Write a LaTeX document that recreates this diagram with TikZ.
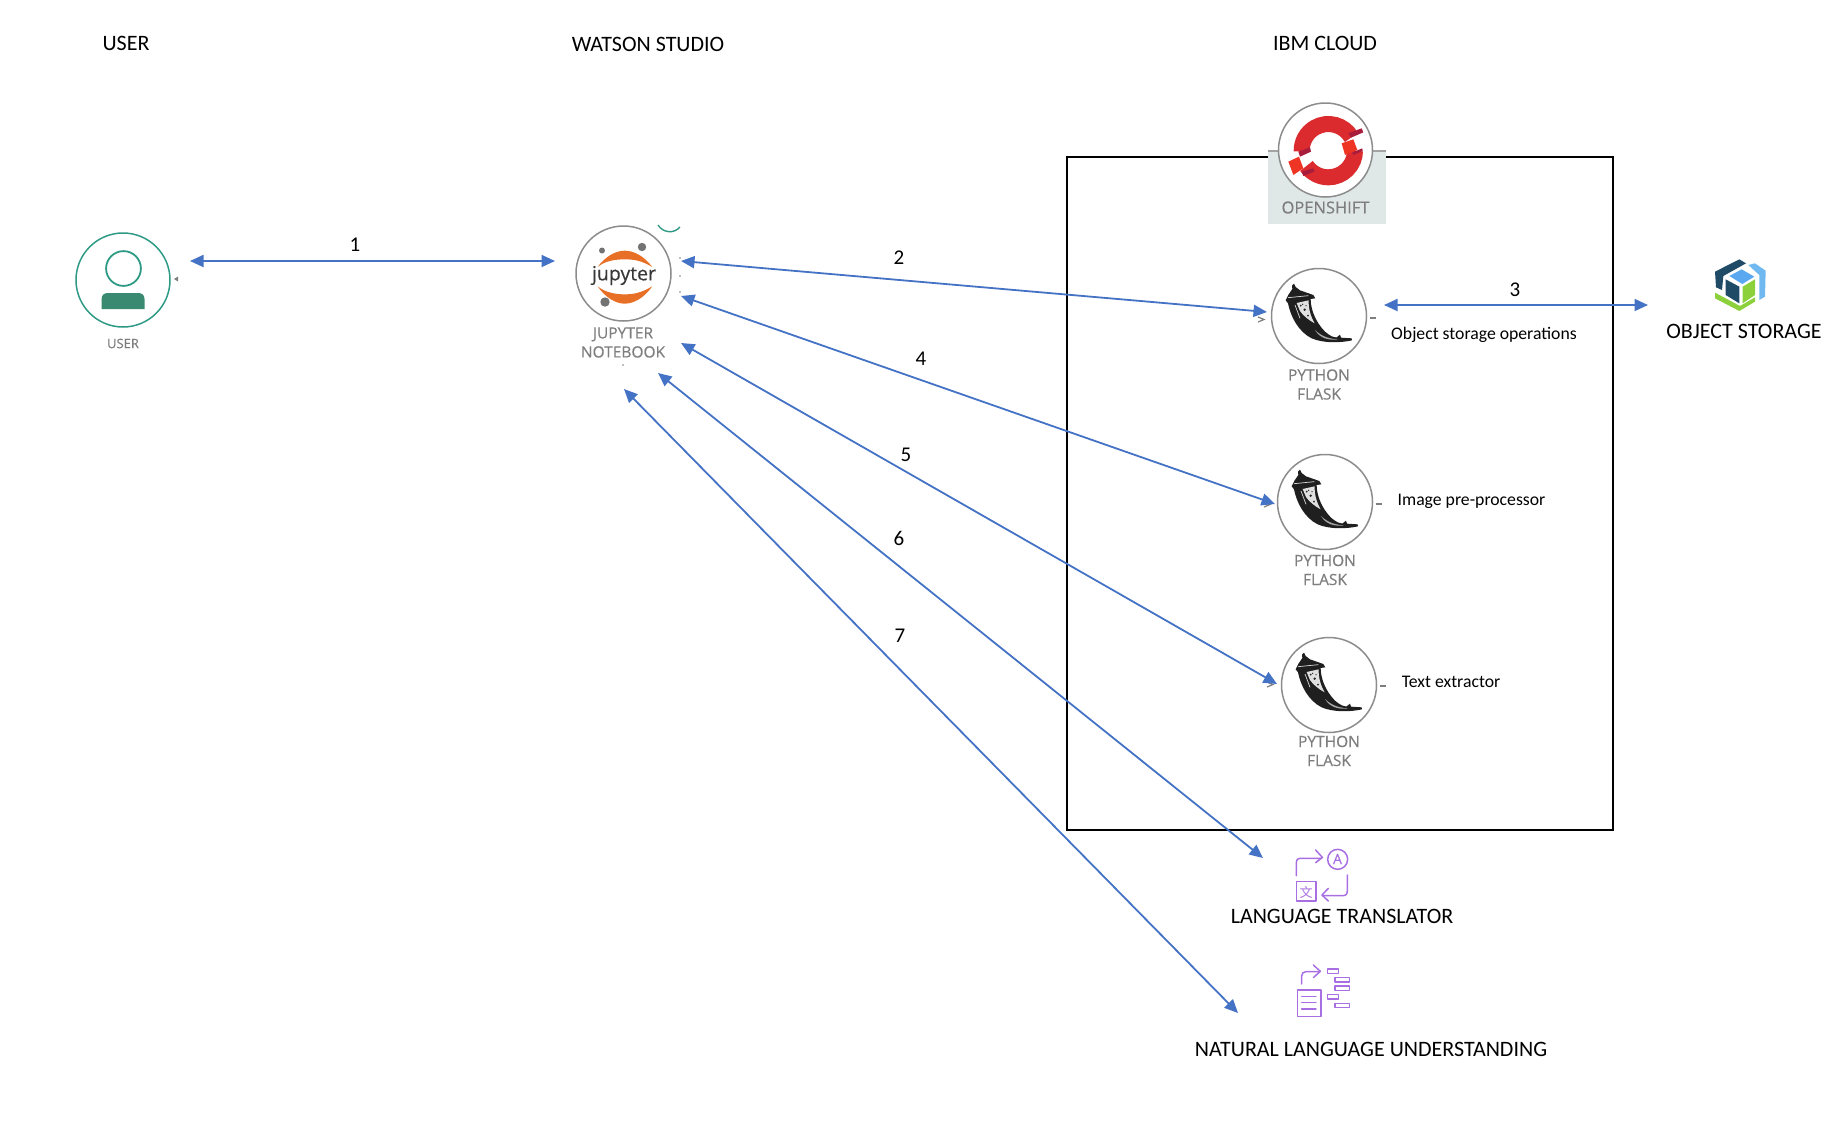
\documentclass[tikz,border=0pt]{standalone}
\usepackage{fontspec}
\setmainfont{Carlito}
\newfontfamily\gfont[FakeBold=0.35]{Open Sans}
\newfontfamily\cjkf{Noto Sans CJK SC}
\usetikzlibrary{arrows.meta,calc}
\definecolor{arrowblue}{HTML}{4472C4}
\definecolor{teal1}{HTML}{2E9A85}
\definecolor{teal2}{HTML}{3A8A72}
\definecolor{ringgray}{HTML}{8C8C8C}
\definecolor{labelgray}{HTML}{7E7E7E}
\definecolor{purp}{HTML}{A86FE2}
\definecolor{osred}{HTML}{DB2B2E}
\definecolor{osbright}{HTML}{EE3524}
\definecolor{osdark}{HTML}{A81C3C}
\definecolor{osbg}{HTML}{DFE8E6}
\definecolor{jorange}{HTML}{E86F26}
\definecolor{cosdark}{HTML}{1F4B66}
\definecolor{coslight}{HTML}{6FB8F0}
\definecolor{costop}{HTML}{5AA9F0}
\definecolor{cosgreen}{HTML}{8CD13C}
\tikzset{
  conn/.style={arrowblue,line width=1.8pt,{Triangle[length=13.5pt,width=12pt]}-{Triangle[length=13.5pt,width=12pt]}},
  ring/.style={circle,draw=ringgray,line width=1.5pt,minimum size=95pt,inner sep=0pt},
  head/.style={font=\fontsize{22}{24}\selectfont,text=black,inner sep=0pt},
  num/.style={font=\fontsize{21}{22}\selectfont,text=black,inner sep=0pt},
  note/.style={font=\fontsize{17.7}{20}\selectfont,text=black,inner sep=0pt},
  tag/.style={font=\gfont\fontsize{15.5}{19}\selectfont,text=labelgray,inner sep=0pt,align=center},
  ptick/.style={labelgray,line width=1.5pt},
  flask/.pic={
    \begin{scope}[shift={(-39,-41)},scale=0.3333]
      \fill[black!88] (42,26) -- (47,36) -- (60,46) -- (100,60) -- (106,70) -- (92,72)
        .. controls (92,100) and (104,138) .. (135,170)
        .. controls (150,183) and (162,188) .. (170,187) -- (180,179) -- (183,188) -- (215,190) -- (216,196)
        .. controls (180,204) and (130,205) .. (95,190)
        .. controls (55,170) and (32,125) .. (24,85) -- (17,76) -- (26,58) -- (37,42) -- (36,32) -- cycle;
      \fill[black!12] (50,84) -- (86,76) .. controls (85,100) and (92,125) .. (104,145) .. controls (85,135) and (68,120) .. (60,108) -- cycle;
      \fill[black!85] (62,92) circle (3) (74,104) circle (4) (68,88) circle (2) (84,122) circle (3) (78,92) circle (2);
      \draw[black!15,line width=.7pt] (24,68) -- (85,62) (45,90) -- (60,130);
      \fill[black!35] (105,165) .. controls (125,185) and (150,192) .. (175,193) .. controls (145,197) and (120,190) .. (105,165) -- cycle;
    \end{scope}
  }
}
\begin{document}
\begin{tikzpicture}[x=1pt,y=-1pt]
\useasboundingbox (0,0) rectangle (1832,1120);
% headings
\node[head] (hUser) at (126,43.5) {USER};
\node[head] (hWatson) at (648,44.5) {WATSON STUDIO};
\node[head] (hCloud) at (1325,43.5) {IBM CLOUD};
% cloud box
\node[draw=black,line width=2pt,minimum width=546pt,minimum height=673pt,inner sep=0pt] (cloud) at (1340,493.5) {};
% openshift
\fill[osbg] (1268,151) rectangle (1386,224);
\draw[ringgray!80,line width=2pt] (1268,151) -- (1386,151);
\node[ring,fill=white,minimum size=94pt] (os) at (1325.5,150) {};
\begin{scope}[shift={(1275,100)},scale=0.3333]
  \coordinate (osc) at (160,152);
  \draw[osred,line width=16pt] (osc) ++(-30:80) arc[start angle=-30,end angle=-182,radius=80];
  \draw[osred,line width=16pt] (osc) ++(0:80) arc[start angle=0,end angle=145,radius=80];
  \fill[osbright] (200,130) -- (235,118) -- (247,150) -- (210,165) -- cycle;
  \fill[osbright] (40,185) -- (72,170) -- (85,205) -- (55,225) -- cycle;
  \fill[osdark] (220,100) -- (260,85) -- (265,97) -- (228,113) -- cycle;
  \fill[osdark] (70,155) -- (105,142) -- (108,155) -- (75,170) -- cycle;
  \fill[osdark] (80,215) -- (115,205) -- (118,215) -- (85,228) -- cycle;
  \fill[osdark] (232,157) -- (262,145) -- (263,153) -- (235,165) -- cycle;
\end{scope}
\node[tag,font=\gfont\fontsize{16.5}{19}\selectfont] (osT) at (1325.5,207.5) {OPENSHIFT};
% user
\node[ring,draw=teal1,minimum size=94pt] (user) at (123,280) {};
\draw[teal1,line width=1.8pt] (123.5,268.5) circle (17.4);
\fill[teal2] (101.6,309) -- (101.6,299) .. controls (101.6,295) and (104,293) .. (108,293) -- (138,293) .. controls (142,293) and (144.5,295) .. (144.5,299) -- (144.5,309) -- cycle;
\node[tag,font=\gfont\fontsize{13}{14}\selectfont] (userT) at (123,343.5) {USER};
\fill[labelgray] (174,279) -- (178,276.5) -- (178,281.5) -- cycle;
% jupyter
\node[ring] (jup) at (623.5,273.5) {};
\begin{scope}[shift={(-55,193)},xscale=0.52,yscale=0.3333]
  \fill[jorange] (1255,222) .. controls (1270,190) and (1290,173) .. (1307,173) .. controls (1325,173) and (1345,190) .. (1360,222)
     .. controls (1340,203) and (1325,199) .. (1307,199) .. controls (1290,199) and (1270,203) .. (1255,222) -- cycle;
  \fill[jorange] (1255,280) .. controls (1270,314) and (1290,332) .. (1307,332) .. controls (1325,332) and (1345,314) .. (1360,280)
     .. controls (1340,299) and (1325,304) .. (1307,304) .. controls (1290,304) and (1270,299) .. (1255,280) -- cycle;
\end{scope}
\fill[black!55] (602,250.5) circle (3) (642,247) circle (4.2) (605,302) circle (4.7);
\node[font=\gfont\fontsize{19.5}{20}\selectfont,text=black!78,inner sep=0pt] (jupLogo) at (624,275.5) {jupyter};
\node[tag] (jupT) at (623,342.5) {JUPYTER\\NOTEBOOK};
\draw[teal1,line width=1.4pt] (658,225) .. controls (663,233) and (674,234) .. (680,227);
\fill[labelgray] (680,258) circle (.8) (680,276) circle (.8) (680,292) circle (.8) (623,365) circle (.8);
% flask services
\node[ring] (fa) at (1319,316) {};
\pic at (1319,316) {flask};
\node[tag] (faT) at (1319,384.5) {PYTHON\\FLASK};
\node[ring] (fb) at (1325,502) {};
\pic at (1325,502) {flask};
\node[tag] (fbT) at (1325,570) {PYTHON\\FLASK};
\node[ring] (fc) at (1329,685) {};
\pic at (1329,685) {flask};
\node[tag] (fcT) at (1329,751) {PYTHON\\FLASK};
\draw[ptick] (1370,318) -- (1376,318);
\draw[ptick] (1376,504) -- (1382,504);
\draw[ptick] (1380,686) -- (1386,686);
\draw[labelgray,line width=1.2pt] (1258,317) -- (1264,319.5) -- (1258,322);
\draw[labelgray,line width=1.2pt] (1264,502) -- (1270,504.5) -- (1264,507);
\draw[labelgray,line width=1.2pt] (1267,682) -- (1273,684.5) -- (1267,687);
% service notes
\node[note] (nA) at (1484,334.5) {Object storage operations};
\node[note] (nB) at (1471.5,501.5) {Image pre-processor};
\node[note] (nC) at (1451,682) {Text extractor};
% object storage
\begin{scope}[shift={(1700,250)},scale=0.3333]
  \fill[cosdark] (45,65) -- (118,28) -- (138,40) -- (70,78) -- (66,120) -- (48,112) -- cycle;
  \fill[coslight] (145,45) -- (165,40) -- (197,62) -- (195,140) -- (178,150) -- (178,75) -- cycle;
  \fill[cosgreen] (45,128) -- (120,168) -- (165,142) -- (165,155) -- (118,183) -- (45,145) -- cycle;
  \fill[costop] (88,78) -- (125,58) -- (163,80) -- (127,102) -- cycle;
  \fill[cosdark] (77,88) -- (118,110) -- (118,160) -- (77,135) -- cycle;
  \fill[cosgreen] (128,110) -- (165,88) -- (165,135) -- (128,160) -- cycle;
\end{scope}
\node[head] (store) at (1744,331.5) {OBJECT STORAGE};
% language translator
\begin{scope}[shift={(1180,830)},scale=0.3333,purp,line width=1.5pt,line cap=round,line join=round]
  \draw (349,137) -- (349,100) .. controls (349,90) and (352,85) .. (362,85) -- (425,85);
  \draw (407,60) -- (427,82) -- (407,98);
  \draw (473,88) circle (30);
  \draw (349,155) rectangle (408,213);
  \draw (502,135) -- (502,182) .. controls (502,192) and (498,197) .. (488,197) -- (428,197);
  \draw (445,175) -- (426,195) -- (445,213);
\end{scope}
\node[font=\fontsize{14}{14}\selectfont\gfont,text=purp,inner sep=0pt] (ltA) at (1337.5,859) {A};
\node[font=\cjkf\fontsize{13}{13}\selectfont,text=purp,inner sep=0pt] (ltZ) at (1306,892.5) {文};
\node[head] (lt) at (1342,916.5) {LANGUAGE TRANSLATOR};
% NLU
\begin{scope}[shift={(1180,830)},scale=0.3333,purp,line width=1.5pt,line cap=round,line join=round]
  \draw (365,462) -- (365,438) .. controls (365,430) and (370,425) .. (378,425) -- (420,425);
  \draw (400,405) -- (421,424) -- (400,443);
  \draw (442,417) rectangle (476,430);
  \draw (465,443) rectangle (509,456);
  \draw (465,468) rectangle (509,481);
  \draw (442,494) rectangle (476,507);
  \draw (465,520) rectangle (509,533);
  \draw (353,480) rectangle (423,560);
  \draw (365,500) -- (408,500) (365,518) -- (408,518) (365,537) -- (408,537);
\end{scope}
\node[head] (nlu) at (1371,1049.5) {NATURAL LANGUAGE UNDERSTANDING};
% connector ends
\coordinate (e1a) at (190,261);   \coordinate (e1b) at (555,261);
\coordinate (e2a) at (681,261);   \coordinate (e2b) at (1267,312);
\coordinate (e3a) at (1384,305);  \coordinate (e3b) at (1648,305);
\coordinate (e4a) at (681,296);   \coordinate (e4b) at (1275,504);
\coordinate (e5a) at (681,343);   \coordinate (e5b) at (1277,684);
\coordinate (e6a) at (658,373);   \coordinate (e6b) at (1263,858);
\coordinate (e7a) at (624,389);   \coordinate (e7b) at (1238,1013);
\draw[conn] (e1a) -- (e1b);
\draw[conn] (e2a) -- (e2b);
\draw[conn] (e3a) -- (e3b);
\draw[conn] (e4a) -- (e4b);
\draw[conn] (e5a) -- (e5b);
\draw[conn] (e6a) -- (e6b);
\draw[conn] (e7a) -- (e7b);
\node[num] (n1) at (355,245) {1};
\node[num] (n2) at (899,258) {2};
\node[num] (n3) at (1515,290) {3};
\node[num] (n4) at (921,359) {4};
\node[num] (n5) at (906,455) {5};
\node[num] (n6) at (899,538) {6};
\node[num] (n7) at (900,636) {7};
\end{tikzpicture}
\end{document}
